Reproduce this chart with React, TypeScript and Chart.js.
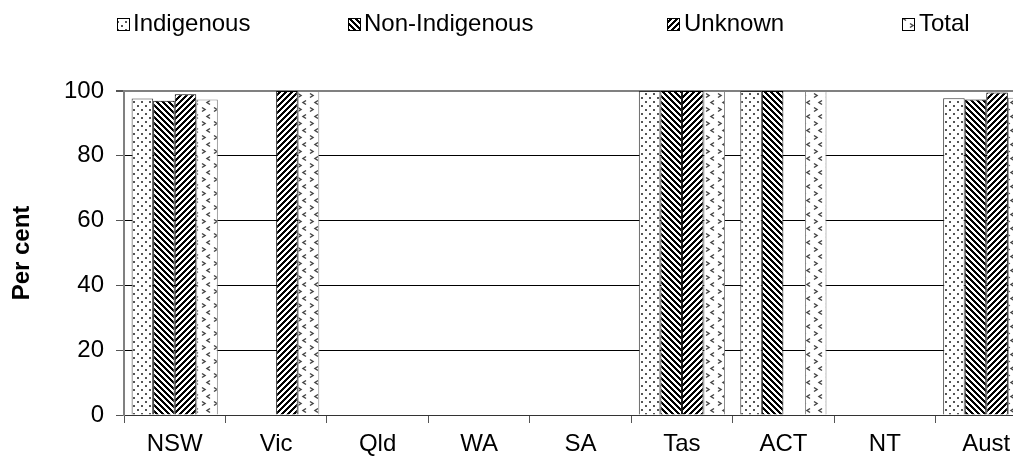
import { useEffect, useRef } from 'react';
import { Chart, registerables } from 'chart.js';

Chart.register(...registerables);

const categories = ['NSW', 'Vic', 'Qld', 'WA', 'SA', 'Tas', 'ACT', 'NT', 'Aust'];
const indigenous = [97.7, null, null, null, null, 100, 100, null, 97.8];
const nonIndigenous = [97.0, null, null, null, null, 100, 100, null, 97.4];
const unknown = [99.0, 100, null, null, null, 100, null, null, 99.5];
const total = [97.4, 100, null, null, null, 100, 100, null, 97.9];
const seriesNames = ['Indigenous', 'Non-Indigenous', 'Unknown', 'Total'];
const yTicks = [0, 20, 40, 60, 80, 100];
const yTitle = 'Per cent';

const FONT = '"Liberation Sans", Arial, Helvetica, sans-serif';

const CANVAS_W = 1050;
const CANVAS_H = 455;
const legendBoxX = [109, 340, 659, 894];
const legendTextX = [125, 356, 676, 911];

function makeTile(w: number, h: number, draw: (g: CanvasRenderingContext2D) => void) {
  const c = document.createElement('canvas');
  c.width = w;
  c.height = h;
  const g = c.getContext('2d')!;
  g.fillStyle = '#ffffff';
  g.fillRect(0, 0, w, h);
  draw(g);
  return c;
}

function stripeTile(dir: 1 | -1) {
  const p = 6;
  return makeTile(p, p, (g) => {
    g.fillStyle = '#000000';
    for (let x = 0; x < p; x++) {
      for (let y = 0; y < p; y++) {
        const v = (((dir === 1 ? x - y : x + y) % p) + p) % p;
        if (v < 3) g.fillRect(x, y, 1, 1);
      }
    }
  });
}

function dotTile() {
  return makeTile(8, 8, (g) => {
    g.fillStyle = '#555555';
    g.fillRect(1, 1, 2, 2);
    g.fillRect(5, 5, 2, 2);
  });
}

function arrowTile() {
  return makeTile(12, 14, (g) => {
    g.strokeStyle = '#444444';
    g.lineWidth = 1.5;
    g.beginPath();
    g.moveTo(2, 1.5);
    g.lineTo(5, 3.5);
    g.lineTo(2, 5.5);
    g.stroke();
    g.beginPath();
    g.moveTo(10, 8.5);
    g.lineTo(7, 10.5);
    g.lineTo(10, 12.5);
    g.stroke();
  });
}

const legendPlugin = {
  id: 'customLegend',
  afterDraw(chart: any) {
    const ctx: CanvasRenderingContext2D = chart.ctx;
    ctx.save();
    chart.data.datasets.forEach((ds: any, i: number) => {
      const bx = legendBoxX[i];
      ctx.fillStyle = ds.backgroundColor;
      ctx.fillRect(bx, 10, 13, 13);
      ctx.strokeStyle = '#000000';
      ctx.lineWidth = 1;
      ctx.strokeRect(bx + 0.5, 10.5, 12, 12);
      ctx.fillStyle = '#000000';
      ctx.font = `24px ${FONT}`;
      ctx.textBaseline = 'alphabetic';
      ctx.textAlign = 'left';
      ctx.fillText(ds.label, legendTextX[i], 23);
    });
    ctx.restore();
  },
};

export default function App() {
  const ref = useRef<HTMLCanvasElement>(null);

  useEffect(() => {
    const canvas = ref.current!;
    const ctx = canvas.getContext('2d')!;
    const pats = [dotTile(), stripeTile(1), stripeTile(-1), arrowTile()].map(
      (t) => ctx.createPattern(t, 'repeat')!
    );
    const borders = ['#333333', '#000000', '#000000', '#808080'];
    const values = [indigenous, nonIndigenous, unknown, total];

    Chart.defaults.font.family = FONT;
    Chart.defaults.font.size = 24;
    Chart.defaults.color = '#000000';

    const chart = new Chart(canvas, {
      type: 'bar',
      data: {
        labels: categories,
        datasets: seriesNames.map((name, i) => ({
          label: name,
          data: values[i] as any,
          backgroundColor: pats[i] as any,
          borderColor: borders[i],
          borderWidth: 1,
          barPercentage: 1.0,
          categoryPercentage: 0.85,
        })),
      },
      options: {
        responsive: false,
        animation: false,
        layout: { padding: { top: 83, right: 21, left: 0, bottom: 0 } },
        plugins: {
          legend: { display: false },
          tooltip: { enabled: false },
        },
        scales: {
          x: {
            grid: {
              display: true,
              drawOnChartArea: false,
              drawTicks: true,
              tickLength: 8,
              offset: true,
              color: '#555555',
            },
            border: { display: true, color: '#333333', width: 1 },
            ticks: {
              padding: 7,
              color: '#000000',
              font: { size: 24, family: FONT },
              maxRotation: 0,
              autoSkip: false,
            },
            afterFit: (s: any) => {
              s.height = 48;
            },
          },
          y: {
            min: 0,
            max: 100,
            afterBuildTicks: (s: any) => {
              s.ticks = yTicks.map((v) => ({ value: v }));
            },
            ticks: {
              padding: 12,
              color: '#000000',
              font: { size: 24, family: FONT },
            },
            grid: {
              color: (c: any) => (c.tick && c.tick.value === 100 ? '#808080' : '#000000'),
              lineWidth: (c: any) => (c.tick && c.tick.value === 100 ? 2 : 1),
              tickColor: '#555555',
              tickLength: 8,
            },
            border: { display: true, color: '#808080', width: 2 },
            title: {
              display: true,
              text: yTitle,
              color: '#000000',
              font: { size: 24, weight: 'bold', family: FONT },
              padding: 0,
            },
            afterFit: (s: any) => {
              s.width = 116;
            },
          },
        },
      },
      plugins: [legendPlugin],
    });
    return () => chart.destroy();
  }, []);

  return (
    <div style={{ width: 1013, height: CANVAS_H, overflow: 'hidden', position: 'relative' }}>
      <canvas ref={ref} width={CANVAS_W} height={CANVAS_H} style={{ display: 'block', width: CANVAS_W, height: CANVAS_H }} />
    </div>
  );
}
